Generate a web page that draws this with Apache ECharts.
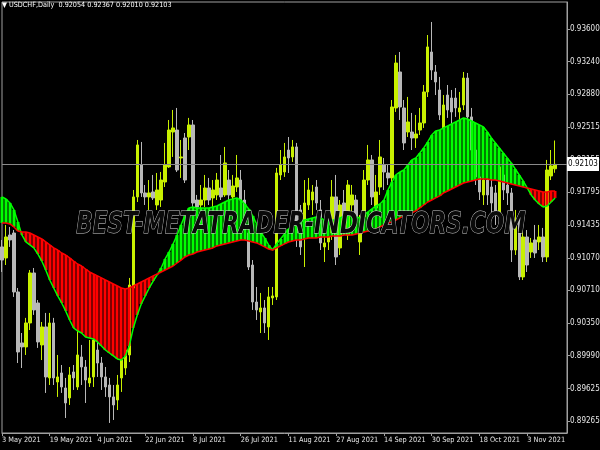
<!DOCTYPE html>
<html><head><meta charset="utf-8">
<script src="https://cdn.jsdelivr.net/npm/echarts@6/dist/echarts.min.js"></script>
<style>html,body{margin:0;padding:0;background:#000}#c{width:600px;height:450px}</style>
</head><body><div id="c"></div><script>
const symbolName = 'USDCHF,Daily';
const watermarkText = 'BEST-METATRADER-INDICATORS.COM';
const monthNames = ['Jan','Feb','Mar','Apr','May','Jun','Jul','Aug','Sep','Oct','Nov','Dec'];
const yTicks = [0.89265,0.89625,0.89990,0.90350,0.90710,0.91070,0.91435,0.91795,0.92155,0.92515,0.92880,0.93240,0.93600];

const open = [0.91190,0.91068,0.91322,0.91344,0.90692,0.90128,0.90084,0.90349,0.90902,0.90570,
 0.90106,0.90305,0.89741,0.90349,0.89696,0.89796,0.89630,0.89520,0.89807,0.89641,
 0.89973,0.89862,0.89685,0.89752,0.90050,0.89906,0.89752,0.89663,0.89531,0.89497,
 0.89741,0.89851,0.89995,0.90736,0.91743,0.92097,0.91787,0.91743,0.91798,0.91654,
 0.91709,0.91908,0.92075,0.92461,0.92483,0.92174,0.92395,0.92406,0.92539,0.91709,
 0.91654,0.91709,0.91842,0.91732,0.91765,0.91842,0.91765,0.91930,0.91743,0.91853,
 0.91930,0.91709,0.91344,0.90990,0.90581,0.90471,0.90515,0.90305,0.90626,0.90637,
 0.91986,0.92019,0.92262,0.92185,0.92296,0.91599,0.91455,0.91654,0.91709,0.91853,
 0.91599,0.91190,0.91245,0.91344,0.91743,0.91179,0.91676,0.91322,0.91654,0.91709,
 0.91245,0.91522,0.91930,0.92152,0.91621,0.91853,0.92097,0.92008,0.91953,0.92727,
 0.93125,0.92727,0.92461,0.92461,0.92395,0.92483,0.92561,0.92904,0.93346,0.93125,
 0.92926,0.92506,0.92870,0.92837,0.92837,0.92683,0.92760,0.93058,0.92628,0.92262,
 0.91964,0.91765,0.91930,0.91853,0.91787,0.91566,0.91986,0.91875,0.91787,0.91156,
 0.91522,0.90858,0.91300,0.91134,0.91267,0.91245,0.91300,0.91079,0.91975,0.92054];

const high = [0.91267,0.91433,0.91411,0.91377,0.90736,0.90238,0.90405,0.90935,0.90957,0.90603,
 0.90360,0.90460,0.90460,0.90405,0.89995,0.89884,0.89741,0.89862,0.89884,0.90271,
 0.90106,0.89939,0.90161,0.90238,0.90161,0.89973,0.89862,0.89741,0.89663,0.89774,
 0.90028,0.90161,0.90847,0.91820,0.92373,0.92351,0.91875,0.91930,0.91986,0.92008,
 0.92019,0.92340,0.92594,0.92705,0.92727,0.92373,0.92450,0.92617,0.92594,0.91765,
 0.91875,0.91986,0.91953,0.91930,0.92008,0.92207,0.92296,0.92041,0.91986,0.92207,
 0.92041,0.91820,0.91400,0.91045,0.90747,0.90681,0.90603,0.90747,0.90747,0.92064,
 0.92262,0.92340,0.92406,0.92373,0.92340,0.91654,0.91930,0.91953,0.91875,0.91930,
 0.91709,0.91377,0.91433,0.91930,0.91986,0.91709,0.91820,0.91930,0.91875,0.91765,
 0.91544,0.92041,0.92318,0.92207,0.91986,0.92373,0.92174,0.92097,0.92815,0.93313,
 0.93346,0.92815,0.92849,0.92672,0.92650,0.92727,0.92981,0.93534,0.93678,0.93202,
 0.93070,0.92870,0.92981,0.92926,0.92948,0.92904,0.93125,0.93114,0.92727,0.92373,
 0.92097,0.92041,0.92019,0.91930,0.91875,0.92152,0.92097,0.91953,0.91842,0.91599,
 0.91577,0.91377,0.91377,0.91289,0.91433,0.91433,0.91400,0.92152,0.92262,0.92367];

const low = [0.90913,0.90990,0.91190,0.90637,0.89906,0.89851,0.89995,0.90271,0.90438,0.90073,
 0.89939,0.89575,0.89663,0.89663,0.89531,0.89575,0.89298,0.89442,0.89608,0.89608,
 0.89663,0.89464,0.89641,0.89641,0.89752,0.89608,0.89531,0.89243,0.89276,0.89386,
 0.89586,0.89774,0.89917,0.90692,0.91687,0.91743,0.91654,0.91599,0.91709,0.91599,
 0.91632,0.91853,0.92064,0.92185,0.92019,0.91953,0.91897,0.92262,0.91599,0.91544,
 0.91544,0.91632,0.91654,0.91599,0.91709,0.91709,0.91743,0.91709,0.91654,0.91798,
 0.91654,0.91322,0.90935,0.90493,0.90382,0.90238,0.90238,0.90161,0.90548,0.90603,
 0.91930,0.91964,0.92008,0.92130,0.91190,0.91101,0.90968,0.91599,0.91544,0.91599,
 0.91156,0.91023,0.91156,0.91267,0.90990,0.91101,0.91433,0.91267,0.91377,0.91377,
 0.91101,0.91466,0.91875,0.91654,0.91544,0.91765,0.91820,0.91875,0.91908,0.92683,
 0.92594,0.92262,0.92406,0.92262,0.92285,0.92428,0.92506,0.92848,0.93036,0.92870,
 0.92594,0.92428,0.92617,0.92539,0.92628,0.92594,0.92705,0.92572,0.92152,0.91875,
 0.91709,0.91654,0.91654,0.91544,0.91433,0.91466,0.91709,0.91654,0.91023,0.91101,
 0.90824,0.90824,0.90913,0.91068,0.91068,0.91156,0.91023,0.91023,0.91930,0.92010];

const close = [0.91045,0.91300,0.91267,0.90692,0.90028,0.90084,0.90349,0.90902,0.90493,0.90139,
 0.90305,0.89752,0.90349,0.89741,0.89752,0.89641,0.89464,0.89774,0.89741,0.89995,
 0.89862,0.89718,0.89741,0.90161,0.89906,0.89752,0.89641,0.89531,0.89442,0.89663,
 0.89939,0.90050,0.90769,0.91743,0.92318,0.91787,0.91743,0.91787,0.91732,0.91820,
 0.91930,0.92097,0.92483,0.92506,0.92041,0.92185,0.91930,0.92539,0.91676,0.91632,
 0.91709,0.91842,0.91709,0.91820,0.91930,0.91743,0.92119,0.91765,0.91864,0.91953,
 0.91709,0.91377,0.90968,0.90581,0.90493,0.90515,0.90349,0.90637,0.90648,0.92008,
 0.92097,0.92185,0.92174,0.92296,0.91344,0.91190,0.91676,0.91820,0.91798,0.91676,
 0.91234,0.91234,0.91300,0.91743,0.91079,0.91654,0.91511,0.91875,0.91765,0.91511,
 0.91355,0.91930,0.92152,0.91743,0.91798,0.92185,0.92019,0.91953,0.92738,0.93224,
 0.92738,0.92340,0.92572,0.92395,0.92439,0.92561,0.92904,0.93402,0.93147,0.93014,
 0.92650,0.92760,0.92705,0.92683,0.92727,0.92727,0.93058,0.92628,0.92262,0.91964,
 0.91798,0.91930,0.91765,0.91676,0.91577,0.92075,0.91820,0.91787,0.91156,0.91488,
 0.90858,0.91300,0.90990,0.91234,0.91123,0.91300,0.91079,0.92041,0.92086,0.92103];

const fastMA = [0.91743,0.91720,0.91676,0.91599,0.91466,0.91322,0.91245,0.91212,0.91179,0.91112,
 0.91034,0.90935,0.90824,0.90736,0.90648,0.90570,0.90482,0.90382,0.90294,0.90260,
 0.90238,0.90194,0.90183,0.90172,0.90139,0.90095,0.90050,0.90017,0.89984,0.89951,
 0.89939,0.89984,0.90095,0.90294,0.90438,0.90559,0.90648,0.90736,0.90813,0.90880,
 0.90957,0.91057,0.91134,0.91223,0.91322,0.91433,0.91544,0.91621,0.91632,0.91621,
 0.91621,0.91621,0.91621,0.91632,0.91643,0.91665,0.91687,0.91709,0.91720,0.91732,
 0.91709,0.91665,0.91610,0.91533,0.91444,0.91355,0.91289,0.91212,0.91156,0.91223,
 0.91278,0.91333,0.91388,0.91433,0.91455,0.91466,0.91488,0.91499,0.91511,0.91522,
 0.91511,0.91488,0.91488,0.91488,0.91488,0.91511,0.91533,0.91544,0.91533,0.91522,
 0.91511,0.91544,0.91577,0.91610,0.91643,0.91665,0.91709,0.91820,0.91908,0.91986,
 0.92019,0.92041,0.92097,0.92152,0.92174,0.92229,0.92285,0.92351,0.92428,0.92472,
 0.92483,0.92506,0.92528,0.92550,0.92572,0.92594,0.92617,0.92605,0.92583,0.92561,
 0.92539,0.92517,0.92461,0.92395,0.92340,0.92285,0.92229,0.92174,0.92119,0.92052,
 0.91986,0.91919,0.91842,0.91765,0.91709,0.91665,0.91632,0.91643,0.91687,0.91732];

const slowMA = [0.91455,0.91455,0.91444,0.91411,0.91366,0.91355,0.91355,0.91344,0.91322,0.91300,
 0.91278,0.91245,0.91212,0.91179,0.91156,0.91123,0.91101,0.91068,0.91034,0.91001,
 0.90979,0.90946,0.90913,0.90891,0.90869,0.90847,0.90824,0.90802,0.90780,0.90758,
 0.90736,0.90725,0.90736,0.90758,0.90780,0.90802,0.90824,0.90847,0.90869,0.90891,
 0.90913,0.90935,0.90957,0.90979,0.91012,0.91045,0.91079,0.91101,0.91112,0.91134,
 0.91145,0.91156,0.91167,0.91179,0.91201,0.91212,0.91223,0.91234,0.91245,0.91256,
 0.91267,0.91267,0.91256,0.91245,0.91234,0.91212,0.91190,0.91167,0.91156,0.91179,
 0.91201,0.91223,0.91245,0.91256,0.91267,0.91267,0.91278,0.91289,0.91289,0.91289,
 0.91300,0.91300,0.91300,0.91311,0.91311,0.91311,0.91322,0.91322,0.91322,0.91333,
 0.91344,0.91355,0.91366,0.91377,0.91388,0.91411,0.91433,0.91455,0.91466,0.91488,
 0.91511,0.91533,0.91555,0.91566,0.91588,0.91621,0.91654,0.91687,0.91709,0.91732,
 0.91754,0.91787,0.91809,0.91831,0.91853,0.91875,0.91897,0.91908,0.91919,0.91930,
 0.91941,0.91941,0.91941,0.91930,0.91930,0.91919,0.91908,0.91897,0.91886,0.91875,
 0.91864,0.91853,0.91842,0.91831,0.91820,0.91809,0.91798,0.91798,0.91809,0.91809];

// trading-day categories (weekdays from 3 May 2021), plus a few empty slots on the right
const dates = [];
(function () {
  let t = Date.UTC(2021, 4, 3);
  while (dates.length < open.length + 3) {
    const d = new Date(t);
    const wd = d.getUTCDay();
    if (wd !== 0 && wd !== 6) dates.push(d.getUTCDate() + ' ' + monthNames[d.getUTCMonth()] + ' ' + d.getUTCFullYear());
    t += 86400000;
  }
})();

const candleData = open.map((o, i) => [o, close[i], low[i], high[i]]);
const fillData = fastMA.map((f, i) => [i, f, slowMA[i]]);
const last = open.length - 1;
const titleText = '\u25BC ' + symbolName + '  ' + [open[last], high[last], low[last], close[last]].map(v => v.toFixed(5)).join(' ');

const FONT = '"Liberation Sans Narrow","DejaVu Sans Condensed","Arial Narrow",sans-serif';
const FRAME = '#a0a0a0';
const TEXT = '#e6e6e6';
const BULL = '#c8f000';
const BEAR = '#b8b8b8';
const every12 = (idx) => idx % 12 === 0;

const chart = echarts.init(document.getElementById('c'), null, {renderer: 'canvas'});
chart.setOption({
  backgroundColor: '#000',
  animation: false,
  title: {text: titleText, left: 2, top: 2, padding: 0,
    textStyle: {color: '#ffffff', fontSize: 7.2, fontWeight: 'normal', fontFamily: FONT}},
  grid: {left: 2, right: 33, top: 2, bottom: 17, show: true, borderColor: FRAME, borderWidth: 1,
    backgroundColor: '#000', containLabel: false, outerBoundsMode: 'none'},
  xAxis: {
    type: 'category', data: dates, boundaryGap: false,
    axisLine: {lineStyle: {color: FRAME}},
    axisTick: {show: true, interval: every12, length: 3, lineStyle: {color: FRAME}},
    axisLabel: {interval: every12, align: 'left', color: TEXT, fontSize: 7.3, fontFamily: FONT, margin: 4,
      hideOverlap: false},
    splitLine: {show: false}
  },
  yAxis: {
    type: 'value', position: 'right', min: 0.89132, max: 0.93899, scale: true,
    axisLine: {show: true, lineStyle: {color: FRAME}},
    axisTick: {show: true, length: 3, customValues: yTicks, lineStyle: {color: FRAME}},
    axisLabel: {customValues: yTicks, formatter: v => v.toFixed(5), color: TEXT, fontSize: 8, fontFamily: FONT, margin: 3},
    splitLine: {show: false}
  },
  graphic: [{
    type: 'text', x: 301, y: 225, z: 100, scaleX: 0.72, silent: true,
    style: {text: watermarkText, font: 'italic bold 30px "DejaVu Sans"', fill: '#0a0a0a', stroke: '#cfcfcf', lineWidth: 1,
      align: 'center', verticalAlign: 'middle'}
  }],
  series: [
    {
      type: 'candlestick', data: candleData, barWidth: 3, z: 2,
      itemStyle: {color: BULL, color0: BEAR, borderColor: BULL, borderColor0: BEAR, borderWidth: 1}
    },
    {
      type: 'custom', z: 3, data: fillData, encode: {x: 0, y: [1, 2]},
      renderItem: function (params, api) {
        const i = api.value(0), f = api.value(1), s = api.value(2);
        const p1 = api.coord([i, f]), p2 = api.coord([i, s]);
        const x = Math.round(p1[0]) - 1.5;
        return {type: 'rect', shape: {x: x, y: Math.min(p1[1], p2[1]), width: 3, height: Math.abs(p1[1] - p2[1])},
          style: {fill: f >= s ? '#00ff00' : '#ff0000'}};
      }
    },
    {type: 'line', data: fastMA, z: 4, symbol: 'none', lineStyle: {color: '#00ff00', width: 1.5},
      markLine: {
        silent: true, symbol: ['none', 'none'], animation: false, precision: 5,
        data: [{yAxis: close[last]}],
        lineStyle: {color: '#8a8a8a', width: 1, type: 'solid'},
        label: {show: false}
      }
    },
    {type: 'line', data: slowMA, z: 4, symbol: 'none', lineStyle: {color: '#ff0000', width: 1.5}}
  ]
});

// current-price tag on the price scale, placed through the y axis scale
const py = chart.convertToPixel({yAxisIndex: 0}, close[last]);
const gridRight = 600 - 33;
chart.setOption({
  graphic: [{
    type: 'text', x: 301, y: 225, z: 100, scaleX: 0.72, silent: true,
    style: {text: watermarkText, font: 'italic bold 30px "DejaVu Sans"', fill: '#0a0a0a', stroke: '#cfcfcf', lineWidth: 1,
      align: 'center', verticalAlign: 'middle'}
  }, {
    type: 'group', z: 200, silent: true,
    children: [
      {type: 'rect', z: 200, shape: {x: gridRight, y: Math.round(py) - 7, width: 32, height: 14},
        style: {fill: '#ffffff', stroke: '#000000', lineWidth: 0}},
      {type: 'text', z: 201, x: gridRight + 16, y: Math.round(py),
        style: {text: close[last].toFixed(5), align: 'center', verticalAlign: 'middle', fill: '#000000',
          font: '8px ' + FONT}}
    ]
  }]
}, {replaceMerge: ['graphic']});
</script></body></html>
